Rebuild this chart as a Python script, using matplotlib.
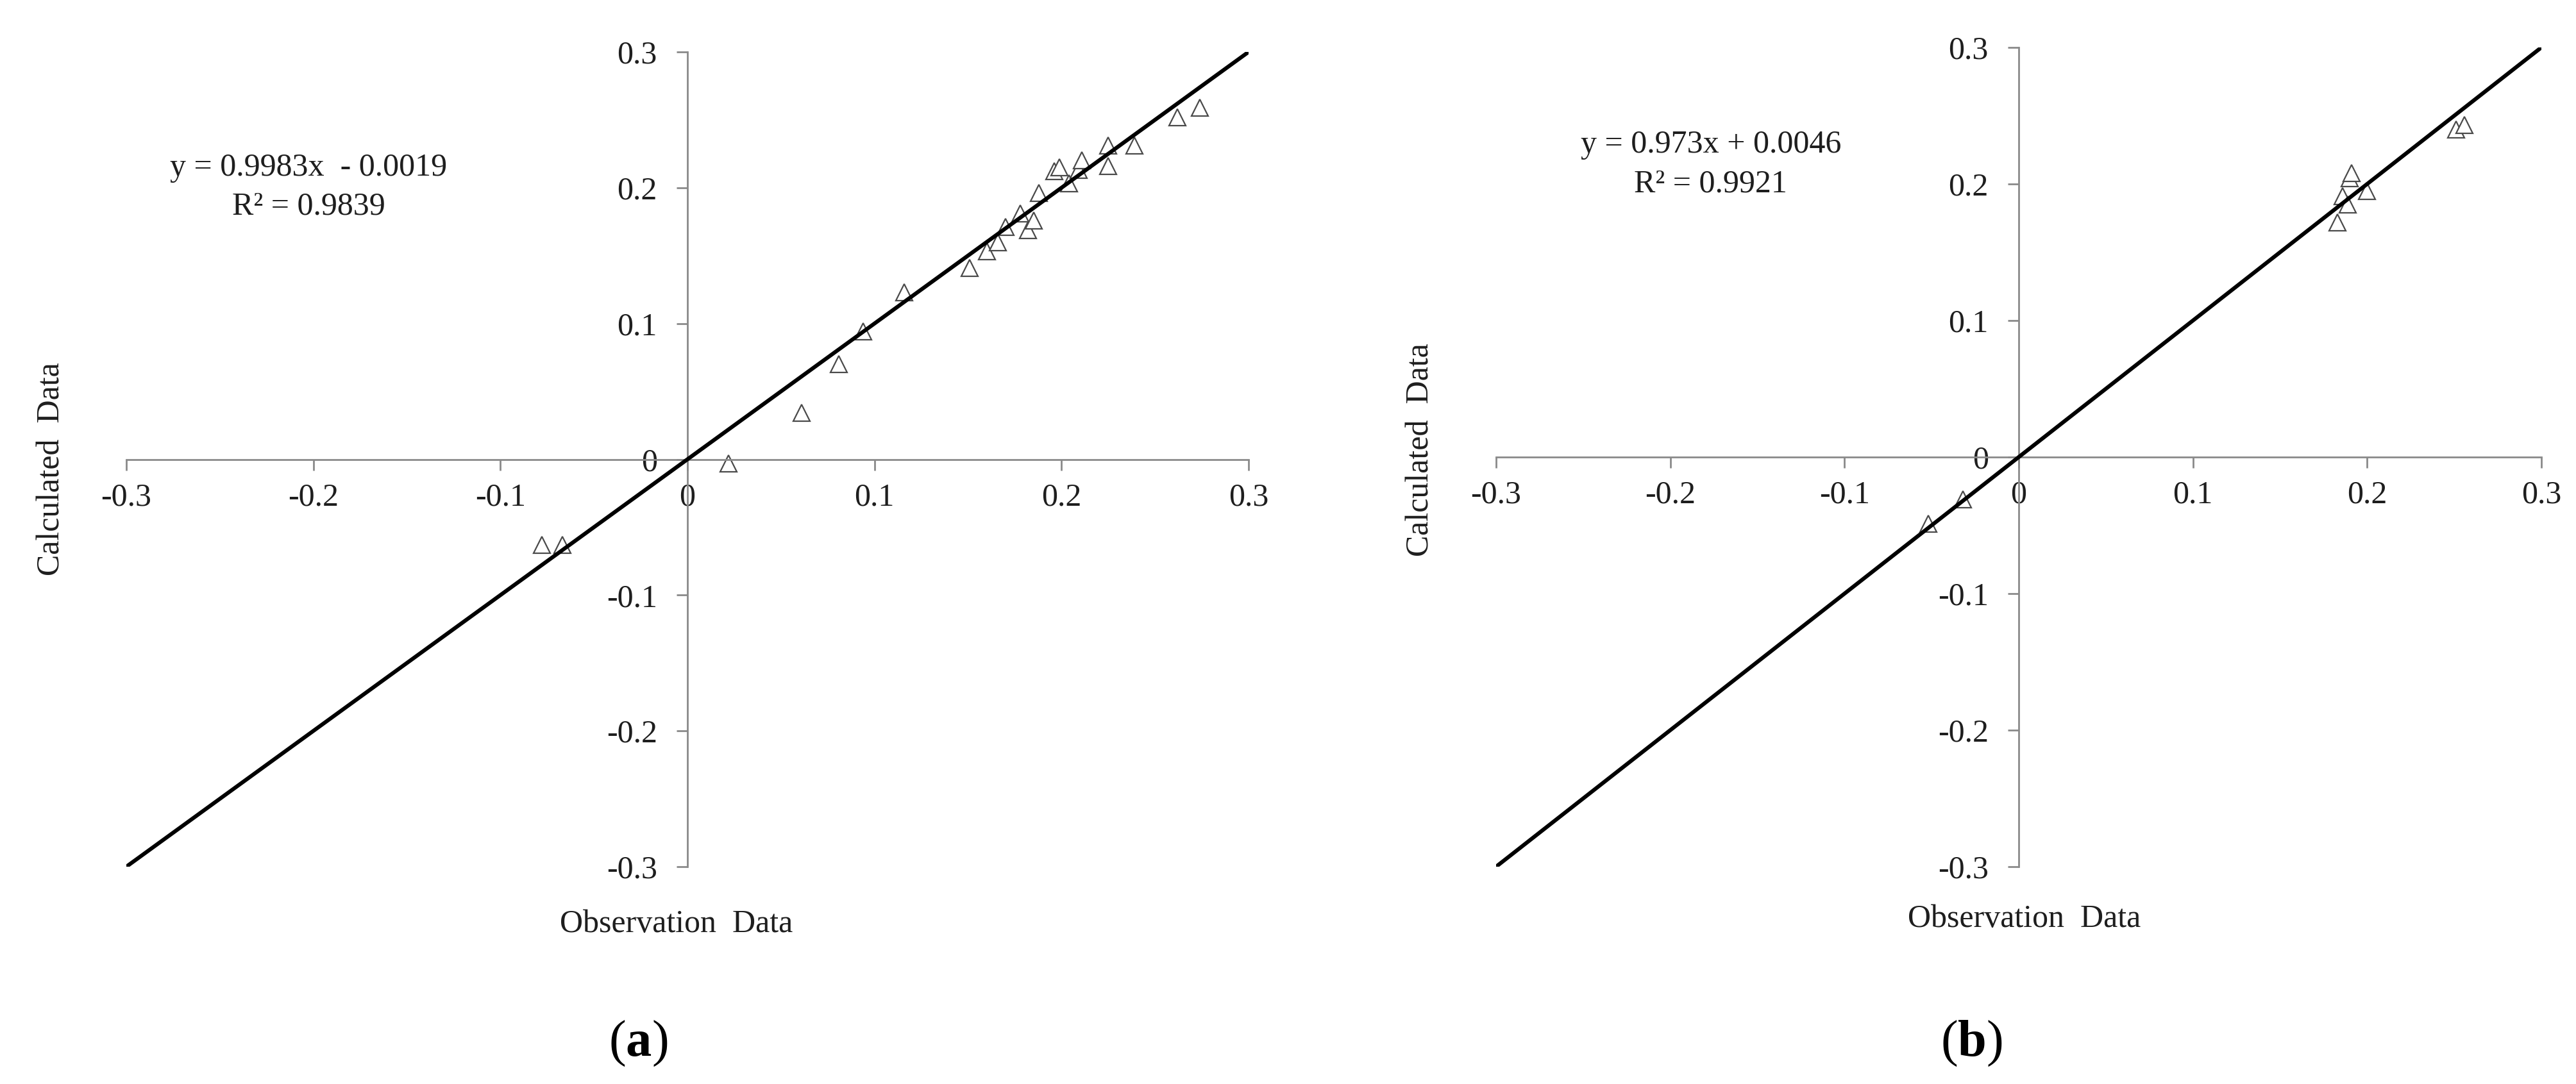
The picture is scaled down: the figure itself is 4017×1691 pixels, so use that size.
import matplotlib
matplotlib.use("Agg")
import matplotlib.pyplot as plt

plt.rcParams["font.family"] = ["Liberation Serif", "DejaVu Serif"]
plt.rcParams["mathtext.fontset"] = "custom"
plt.rcParams["mathtext.rm"] = "Liberation Serif"
plt.rcParams["mathtext.bf"] = "Liberation Serif:bold"

# panel (a)
obs_a = [-0.078, -0.067, 0.022, 0.061, 0.081, 0.094, 0.116, 0.151, 0.160, 0.166,
         0.170, 0.178, 0.182, 0.185, 0.188, 0.196, 0.199, 0.204, 0.209, 0.211,
         0.225, 0.225, 0.239, 0.262, 0.274]
calc_a = [-0.063, -0.063, -0.003, 0.034, 0.070, 0.094, 0.123, 0.141, 0.153, 0.160,
          0.171, 0.181, 0.169, 0.176, 0.196, 0.212, 0.215, 0.203, 0.213, 0.220,
          0.216, 0.231, 0.231, 0.252, 0.259]
eq_a = "y = 0.9983x  - 0.0019"
r2_a = "R\u00b2 = 0.9839"

# panel (b)
obs_b = [-0.052, -0.032, 0.183, 0.186, 0.189, 0.190, 0.191, 0.200, 0.251, 0.256]
calc_b = [-0.049, -0.031, 0.172, 0.191, 0.185, 0.204, 0.208, 0.195, 0.240, 0.243]
eq_b = "y = 0.973x + 0.0046"
r2_b = "R\u00b2 = 0.9921"

ticks = [-0.3, -0.2, -0.1, 0.0, 0.1, 0.2, 0.3]
tick_labels = ["-0.3", "-0.2", "-0.1", "0", "0.1", "0.2", "0.3"]
ref_line = [-0.3, 0.3]

W, H = 4017, 1691
fig = plt.figure(figsize=(W / 100, H / 100), dpi=100)

axis_col = "#8a8a8a"
text_col = "#1e1e1e"


def px(x, y):
    return x / W, 1 - y / H


def make_panel(rect, obs, calc):
    ax = fig.add_axes(rect)
    ax.plot(obs, calc, linestyle="none", marker="^", markersize=19,
            markerfacecolor="white", markeredgecolor="#4a4a4a",
            markeredgewidth=1.6, zorder=2, clip_on=False)
    ax.plot(ref_line, ref_line, color="black", linewidth=4.4, zorder=3,
            solid_capstyle="butt")
    ax.set_xlim(-0.3, 0.3)
    ax.set_ylim(-0.3, 0.3)
    for side in ["top", "right"]:
        ax.spines[side].set_visible(False)
    for side in ["left", "bottom"]:
        ax.spines[side].set_position("zero")
        ax.spines[side].set_color(axis_col)
        ax.spines[side].set_linewidth(2)
    ax.set_xticks(ticks)
    ax.set_xticklabels(tick_labels)
    ax.set_yticks(ticks)
    ax.set_yticklabels(tick_labels)
    ax.tick_params(axis="both", direction="out", length=12, width=2,
                   color=axis_col, labelsize=36, labelcolor=text_col)
    ax.tick_params(axis="x", pad=14)
    ax.tick_params(axis="y", pad=22)
    ax.patch.set_visible(False)
    return ax


ax_a = make_panel([197 / W, 1 - 1352 / H, 1750 / W, (1352 - 81) / H], obs_a, calc_a)
ax_b = make_panel([2333 / W, 1 - 1352 / H, 1630 / W, (1352 - 74) / H], obs_b, calc_b)

# equations
fig.text(*px(481, 262), eq_a, ha="center", va="center", fontsize=36, color=text_col)
fig.text(*px(481, 322), r2_a, ha="center", va="center", fontsize=36, color=text_col)
fig.text(*px(2668, 226), eq_b, ha="center", va="center", fontsize=36, color=text_col)
fig.text(*px(2667, 287), r2_b, ha="center", va="center", fontsize=36, color=text_col)

# axis titles
fig.text(*px(80, 732), "Calculated  Data", rotation=90, ha="center", va="center",
         fontsize=36, color=text_col)
fig.text(*px(2215, 702), "Calculated  Data", rotation=90, ha="center", va="center",
         fontsize=36, color=text_col)
fig.text(*px(1055, 1442), "Observation  Data", ha="center", va="center",
         fontsize=36, color=text_col)
fig.text(*px(3157, 1434), "Observation  Data", ha="center", va="center",
         fontsize=36, color=text_col)

# panel letters
fig.text(*px(995, 1628), r"($\mathbf{a}$)", ha="center", va="center", fontsize=58,
         color="black")
fig.text(*px(3074, 1628), r"($\mathbf{b}$)", ha="center", va="center", fontsize=58,
         color="black")

fig.savefig("out.png", dpi=100)
plt.close(fig)
